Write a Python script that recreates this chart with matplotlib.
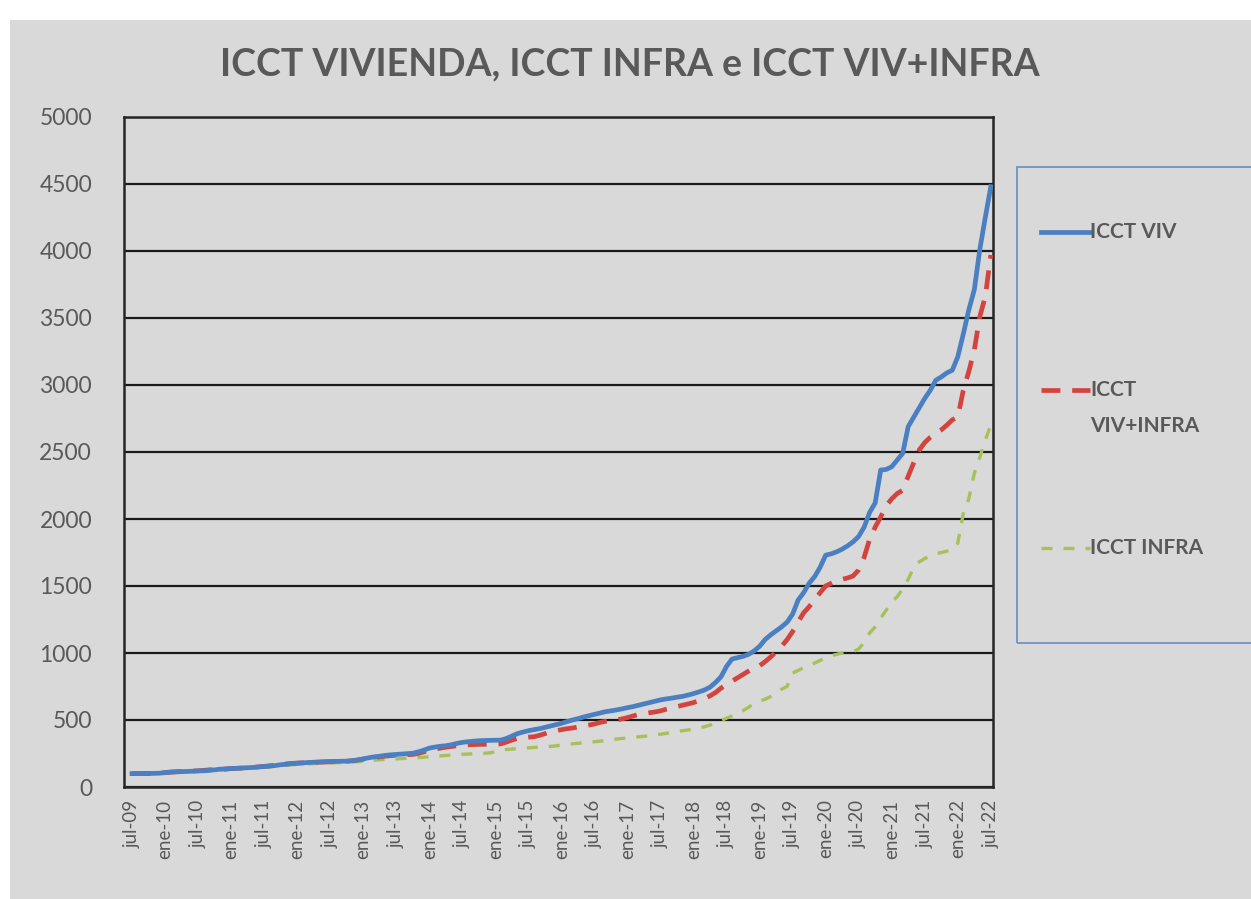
import matplotlib
matplotlib.use('Agg')
import matplotlib.pyplot as plt
from matplotlib.patches import Rectangle
from matplotlib.lines import Line2D

# monthly index values, jul-09 .. jul-22
icct_viv = [
    100, 100, 101, 101, 102, 103, 108,
    112, 114, 115, 116, 118, 120,
    121, 124, 128, 133, 135, 138,
    140, 142, 144, 146, 150, 153,
    156, 160, 166, 170, 174, 178,
    180, 183, 185, 187, 189, 190,
    191, 192, 193, 196, 202, 210,
    218, 225, 230, 236, 240, 243,
    246, 249, 252, 262, 275, 290,
    298, 304, 308, 315, 325, 333,
    338, 342, 345, 347, 348, 349,
    350, 362, 380, 398, 410, 420,
    428, 435, 445, 455, 465, 475,
    488, 500, 510, 522, 532, 542,
    552, 562, 568, 575, 583, 592,
    600, 610, 620, 630, 640, 650,
    657, 663, 670, 676, 686, 697,
    710, 724, 745, 780, 823, 900,
    955, 965, 975, 990, 1015, 1050,
    1100, 1135, 1165, 1195, 1230, 1290,
    1395, 1450, 1520, 1570, 1640, 1730,
    1740, 1755, 1775, 1800, 1830, 1870,
    1940, 2050, 2120, 2365, 2370, 2390,
    2440, 2490, 2690, 2760, 2830, 2900,
    2960, 3035, 3060, 3090, 3110, 3210,
    3380, 3560, 3710, 4010, 4250, 4480,
]

icct_viv_infra = [
    100, 100, 100, 101, 102, 104, 107,
    110, 113, 115, 117, 119, 121,
    124, 128, 130, 132, 134, 137,
    139, 141, 143, 146, 150, 154,
    158, 163, 168, 172, 176, 178,
    180, 182, 184, 185, 186, 188,
    189, 190, 192, 196, 201, 208,
    214, 220, 225, 230, 234, 237,
    239, 241, 243, 250, 262, 275,
    283, 290, 297, 302, 308, 312,
    315, 317, 318, 319, 320, 320,
    322, 335, 350, 362, 368, 372,
    375, 385, 398, 410, 420, 428,
    435, 440, 448, 455, 462, 470,
    482, 490, 495, 500, 508, 518,
    530, 540, 548, 554, 560, 568,
    580, 590, 600, 610, 620, 630,
    645, 660, 680, 705, 738, 765,
    790, 815, 840, 865, 890, 905,
    935, 970, 1010, 1050, 1100, 1160,
    1230, 1300, 1345, 1400, 1450, 1500,
    1520, 1540, 1550, 1560, 1575, 1620,
    1715, 1850, 1940, 2015, 2100, 2150,
    2190, 2215, 2320, 2420, 2515, 2570,
    2610, 2640, 2665, 2700, 2740, 2760,
    2960, 3100, 3260, 3510, 3660, 3970,
]

icct_infra = [
    100, 99, 99, 100, 101, 103, 106,
    109, 111, 113, 114, 116, 118,
    120, 123, 126, 128, 130, 133,
    135, 137, 139, 142, 145, 148,
    151, 155, 159, 163, 166, 169,
    171, 173, 175, 177, 178, 180,
    181, 182, 184, 186, 189, 192,
    196, 200, 203, 206, 208, 210,
    212, 214, 216, 219, 222, 226,
    229, 232, 235, 238, 241, 244,
    246, 248, 250, 252, 255, 262,
    276, 280, 283, 286, 289, 292,
    295, 298, 300, 303, 307, 312,
    317, 322, 326, 330, 334, 338,
    342, 347, 352, 358, 362, 366,
    370, 374, 378, 382, 388, 394,
    400, 407, 414, 420, 426, 432,
    440, 450, 462, 478, 495, 514,
    530, 548, 570, 595, 625, 640,
    655, 675, 700, 730, 750, 850,
    870, 890, 905, 925, 945, 965,
    980, 990, 1000, 1005, 1010, 1030,
    1080, 1150, 1195, 1260, 1320, 1380,
    1420, 1480, 1550, 1640, 1680, 1705,
    1725, 1740, 1750, 1760, 1770, 1820,
    2040, 2150, 2340, 2460, 2590, 2700,
]

tick_labels = [
    'jul-09', 'ene-10', 'jul-10', 'ene-11', 'jul-11', 'ene-12', 'jul-12',
    'ene-13', 'jul-13', 'ene-14', 'jul-14', 'ene-15', 'jul-15', 'ene-16',
    'jul-16', 'ene-17', 'jul-17', 'ene-18', 'jul-18', 'ene-19', 'jul-19',
    'ene-20', 'jul-20', 'ene-21', 'jul-21', 'ene-22', 'jul-22',
]

BG = '#d9d9d9'
GRAY_TXT = '#595959'
BLUE = '#4a7fc1'
RED = '#d4443f'
GREEN = '#a8c05a'
FONT = ['Lato', 'DejaVu Sans']

fig = plt.figure(figsize=(12.51, 8.99), dpi=100)
fig.patch.set_facecolor('white')
fig.patches.append(Rectangle((10 / 1251, 0), 1, 1 - 20 / 899, transform=fig.transFigure,
                             facecolor=BG, edgecolor='none', zorder=-10))

ax = fig.add_axes([124 / 1251, 1 - 787 / 899, (993 - 124) / 1251, (787 - 117) / 899])
ax.set_facecolor(BG)

months = list(range(len(icct_viv)))
ax.plot(months, icct_infra, color=GREEN, lw=2.4, dashes=(3.3, 3.3), zorder=3)
ax.plot(months, icct_viv_infra, color=RED, lw=3.4, dashes=(4.0, 2.5), zorder=4)
ax.plot(months, icct_viv, color=BLUE, lw=3.4, zorder=5)

ax.set_xlim(-1.45, 156.4)
ax.set_ylim(0, 5000)
ax.set_yticks(range(0, 5001, 500))
ax.set_xticks(range(0, 157, 6))
ax.set_xticklabels(tick_labels, rotation=90, family=FONT, fontsize=13.5, color=GRAY_TXT)
ax.set_yticklabels([str(v) for v in range(0, 5001, 500)], family=FONT, fontsize=16.5,
                   color=GRAY_TXT)
ax.tick_params(axis='both', length=0)
ax.tick_params(axis='y', pad=23)
ax.tick_params(axis='x', pad=9)
ax.grid(True, axis='y', color='#1a1a1a', lw=1.6)
ax.set_axisbelow(True)
for s in ax.spines.values():
    s.set_color('#262626')
    s.set_linewidth(1.8)

fig.text(630 / 1251, 1 - 64 / 899, 'ICCT VIVIENDA, ICCT INFRA e ICCT VIV+INFRA',
         ha='center', va='center', family=FONT, fontsize=27, fontweight='bold', color=GRAY_TXT)

# legend box
fig.patches.append(Rectangle((1017 / 1251, 1 - 643 / 899), 0.3, (643 - 167) / 899,
                             transform=fig.transFigure, facecolor='none',
                             edgecolor='#6f93c4', lw=1.3))
legend_items = [
    (['ICCT VIV'], 232, BLUE, 3.4, None),
    (['ICCT', 'VIV+INFRA'], 390, RED, 3.4, (4.0, 2.5)),
    (['ICCT INFRA'], 548, GREEN, 2.4, (3.3, 3.3)),
]
for lines, ypx, col, lw, dash in legend_items:
    yf = 1 - ypx / 899
    ln = Line2D([1041 / 1251, 1090 / 1251], [yf, yf], transform=fig.transFigure,
                color=col, lw=lw)
    if dash:
        ln.set_dashes(dash)
    fig.lines.append(ln)
    for i, txt in enumerate(lines):
        fig.text(1090 / 1251, 1 - (ypx + i * 36) / 899, txt, ha='left', va='center',
                 family=FONT, fontsize=15, fontweight='bold', color=GRAY_TXT)

fig.savefig('out.png', dpi=100, facecolor=fig.get_facecolor())
